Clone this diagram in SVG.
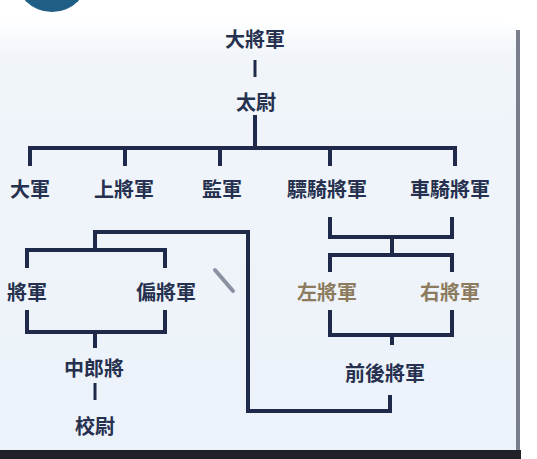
<svg xmlns="http://www.w3.org/2000/svg" width="537" height="459" viewBox="0 0 537 459">
<defs>
<linearGradient id="bg" x1="0" y1="0" x2="0" y2="1">
<stop offset="0" stop-color="#ffffff"/>
<stop offset="0.08" stop-color="#f1f5fa"/>
<stop offset="1" stop-color="#ecf2fa"/>
</linearGradient>
</defs>
<style>
.t{font-family:"Noto Sans CJK TC","Noto Sans CJK SC",sans-serif;font-weight:bold;font-size:20px;fill:#26304f;text-anchor:middle}
.tan{fill:#8c7b5c}
.c{fill:none;stroke:#1f2a4b;stroke-width:4;stroke-linejoin:miter}
.thin{stroke-width:3}
</style>
<rect width="537" height="459" fill="#ffffff"/>
<rect x="0" y="20" width="518" height="431" fill="url(#bg)"/>
<circle cx="52" cy="-25" r="37" fill="#1f5f86"/>
<rect x="516" y="30" width="4" height="429" fill="#7a7e8c"/>
<rect x="0" y="450" width="521" height="9" fill="#202228"/>
<g id="connectors">
<path class="c thin" d="M255 60V77"/>
<path class="c" d="M255 115V148M30 166V148H455V166M125 148V166M220 148V166M330 148V166"/>
<path class="c" d="M330 217V237H452V217M392 237V255M330 272V255H452V272"/>
<path class="c" d="M27 268V250H165V268M95 250V232H248V411H390V395"/>
<path class="c" d="M27 310V332H165V310M95 332V348"/>
<path class="c thin" d="M95 383V400"/>
<path class="c" d="M330 310V335H452V310M392 335V345"/>
</g>
<path d="M215 270L233 291" stroke="#8a91a3" stroke-width="4" stroke-linecap="round"/>
<g id="n1"><text class="t" x="255" y="47">大將軍</text></g>
<g id="n2"><text class="t" x="256" y="110">太尉</text></g>
<g id="n3"><text class="t" x="30" y="197">大軍</text></g>
<g id="n4"><text class="t" x="124" y="197">上將軍</text></g>
<g id="n5"><text class="t" x="222" y="197">監軍</text></g>
<g id="n6"><text class="t" x="327" y="197">驃騎將軍</text></g>
<g id="n7"><text class="t" x="450" y="197">車騎將軍</text></g>
<g id="n8"><text class="t" x="27" y="300">將軍</text></g>
<g id="n9"><text class="t" x="166" y="300">偏將軍</text></g>
<g id="n10"><text class="t tan" x="327" y="300">左將軍</text></g>
<g id="n11"><text class="t tan" x="450" y="300">右將軍</text></g>
<g id="n12"><text class="t" x="94" y="376">中郎將</text></g>
<g id="n13"><text class="t" x="95" y="434">校尉</text></g>
<g id="n14"><text class="t" x="385" y="381">前後將軍</text></g>
</svg>
